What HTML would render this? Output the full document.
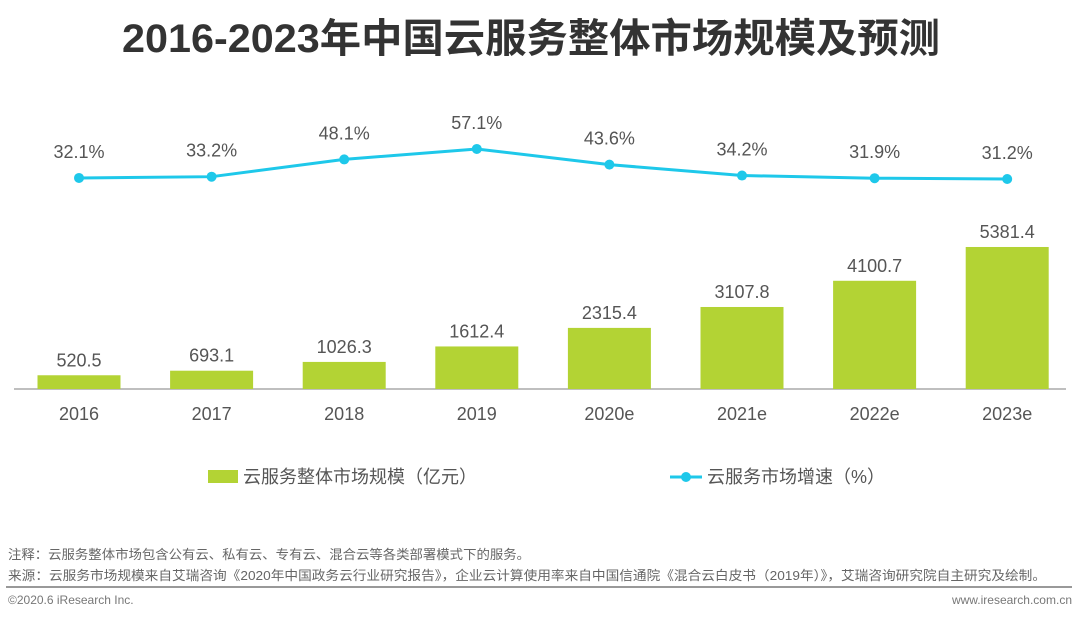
<!DOCTYPE html>
<html><head><meta charset="utf-8">
<style>
body{margin:0;background:#fff;width:1080px;height:620px;overflow:hidden;font-family:"Liberation Sans","Noto Sans CJK SC",sans-serif;}
svg{display:block}
</style></head>
<body>
<svg id="chart" width="1080" height="620">
<text x="122" y="52" textLength="818" lengthAdjust="spacingAndGlyphs" font-size="40" font-weight="bold" fill="#333" font-family="Liberation Sans, Noto Sans CJK SC, sans-serif">2016-2023年中国云服务整体市场规模及预测</text>
<line x1="14" y1="389" x2="1066" y2="389" stroke="#aaa" stroke-width="1.5"/>
<g id="bars"></g><g id="line"></g><g id="labels"></g>
<rect x="208" y="470" width="30" height="13" fill="#b3d334"/>
<text x="243" y="483" font-size="18" fill="#555">云服务整体市场规模（亿元）</text>
<line x1="670" y1="477" x2="702" y2="477" stroke="#1ec8ea" stroke-width="3"/>
<circle cx="686" cy="477" r="5" fill="#1ec8ea"/>
<text x="707" y="483" font-size="18" fill="#555">云服务市场增速（%）</text>
<text x="8" y="559" textLength="522" lengthAdjust="spacingAndGlyphs" font-size="13" fill="#666">注释：云服务整体市场包含公有云、私有云、专有云、混合云等各类部署模式下的服务。</text>
<text x="8" y="580" textLength="1038" lengthAdjust="spacingAndGlyphs" font-size="13" fill="#666">来源：云服务市场规模来自艾瑞咨询《2020年中国政务云行业研究报告》，企业云计算使用率来自中国信通院《混合云白皮书（2019年）》，艾瑞咨询研究院自主研究及绘制。</text>
<line x1="6" y1="587" x2="1072" y2="587" stroke="#999" stroke-width="2"/>
<text x="8" y="604" font-size="12" fill="#777">©2020.6 iResearch Inc.</text>
<text x="1072" y="604" font-size="12" fill="#777" text-anchor="end">www.iresearch.com.cn</text>
</svg>
<script>
const categories=["2016","2017","2018","2019","2020e","2021e","2022e","2023e"];
const marketSize=[520.5,693.1,1026.3,1612.4,2315.4,3107.8,4100.7,5381.4];
const growthRate=[32.1,33.2,48.1,57.1,43.6,34.2,31.9,31.2];
const NS="http://www.w3.org/2000/svg";
const x=i=>79+i*132.6;
const yBar=v=>389-v*0.02639;
const yLine=v=>215.2-v*1.16;
function mk(t,a,p){const e=document.createElementNS(NS,t);for(const k in a)e.setAttribute(k,a[k]);p.appendChild(e);return e;}
const bars=document.getElementById('bars'),line=document.getElementById('line'),labels=document.getElementById('labels');
let pts=[];
categories.forEach((c,i)=>{
 const r=mk('rect',{x:x(i)-41.5,y:yBar(marketSize[i]),width:83,height:389-yBar(marketSize[i]),fill:'#b3d334'},bars);
 
 
 const bl=mk('text',{x:x(i),y:yBar(marketSize[i])-9,'text-anchor':'middle','font-size':18,fill:'#555'},labels);
 bl.textContent=marketSize[i].toFixed(1);
 
 
 const xl=mk('text',{x:x(i),y:420,'text-anchor':'middle','font-size':18,fill:'#555'},labels);
 xl.textContent=c;
 
 
 pts.push(x(i)+','+yLine(growthRate[i]));
});
const pl=mk('polyline',{points:pts.join(' '),fill:'none',stroke:'#1ec8ea','stroke-width':3},line);


categories.forEach((c,i)=>{
 const p=mk('circle',{cx:x(i),cy:yLine(growthRate[i]),r:5,fill:'#1ec8ea'},line);
 
 
 const t=mk('text',{x:x(i),y:yLine(growthRate[i])-20,'text-anchor':'middle','font-size':18,fill:'#555'},labels);
 t.textContent=growthRate[i].toFixed(1)+'%';
 
 
});
</script>
</body></html>
